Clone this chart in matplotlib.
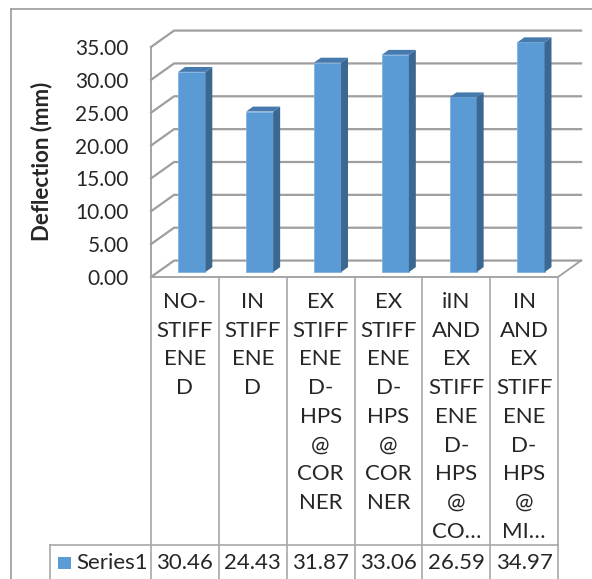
import matplotlib.pyplot as plt
from matplotlib.patches import Polygon, Rectangle
from matplotlib.lines import Line2D
from matplotlib.transforms import blended_transform_factory
import numpy as np

plt.rcParams['font.family'] = ['Lato', 'DejaVu Sans']

categories = [
    "NO-\nSTIFF\nENE\nD",
    "IN\nSTIFF\nENE\nD",
    "EX\nSTIFF\nENE\nD-\nHPS\n@\nCOR\nNER",
    "EX\nSTIFF\nENE\nD-\nHPS\n@\nCOR\nNER",
    "iIN\nAND\nEX\nSTIFF\nENE\nD-\nHPS\n@\nCO\u2026",
    "IN\nAND\nEX\nSTIFF\nENE\nD-\nHPS\n@\nMI\u2026",
]
deflection = [30.46, 24.43, 31.87, 33.06, 26.59, 34.97]
series_name = "Series1"
y_ticks = [0, 5, 10, 15, 20, 25, 30, 35]

W, H = 592, 579
FRONT = '#5B9BD5'
SIDE = '#3B6791'
TOP = '#4679AE'
GRID = '#9E9E9E'
LINE = '#A8A8A8'
TXT = '#262626'


def fx(px):
    return px / W


def fy(py):
    return 1 - py / H


fig = plt.figure(figsize=(W / 100, H / 100), dpi=100)
fig.patch.set_facecolor('white')

# front plane of the 3-D box
left, right, top, bottom = 151, 558, 47, 277
ax = fig.add_axes([fx(left), fy(bottom), fx(right - left), fy(top) - fy(bottom)])
n = len(deflection)
ax.set_xlim(0, n)
ax.set_ylim(0, 35)
ax.set_facecolor('none')
for s in ax.spines.values():
    s.set_visible(False)
ax.set_xticks([])
ax.set_yticks(y_ticks)
ax.set_yticklabels([f"{v:.2f}" for v in y_ticks], fontsize=15, color=TXT)
ax.tick_params(axis='y', length=0, pad=16)

# depth vector of the box (data units)
dx, dy = 0.34, 2.5

# back wall + side wall gridlines
for v in y_ticks:
    ax.plot([0, dx, n + dx], [v, v + dy, v + dy], color=GRID, lw=1.6,
            clip_on=False, zorder=1, solid_joinstyle='miter')
# floor edges and front axis line
ax.plot([0, n, n + dx], [0, 0, dy], color=GRID, lw=1.3, clip_on=False, zorder=1)
ax.plot([0, 0], [0, 35], color=GRID, lw=1.3, clip_on=False, zorder=1)

# 3-D columns
w = 0.40
f0, d = 0.30, 0.30
xs = np.arange(n) + 0.5 - w / 2 + f0 * dx
y0 = f0 * dy
ax.bar(xs, deflection, width=w, bottom=y0, align='edge', color=FRONT,
       edgecolor='#7FB2E0', linewidth=0.6, zorder=3, clip_on=False)
for x0, v in zip(xs, deflection):
    side = [(x0 + w, y0), (x0 + w + d * dx, y0 + d * dy),
            (x0 + w + d * dx, y0 + v + d * dy), (x0 + w, y0 + v)]
    cap = [(x0, y0 + v), (x0 + d * dx, y0 + v + d * dy),
           (x0 + w + d * dx, y0 + v + d * dy), (x0 + w, y0 + v)]
    ax.add_patch(Polygon(side, closed=True, facecolor=SIDE, edgecolor='none',
                         zorder=3, clip_on=False))
    ax.add_patch(Polygon(cap, closed=True, facecolor=TOP, edgecolor='none',
                         zorder=3, clip_on=False))

fig.text(fx(42), fy(161), "Deflection (mm)", rotation=90, ha='center', va='center',
         fontsize=16, fontweight='bold', color=TXT)

# data table under the plot
tr = blended_transform_factory(ax.transData, fig.transFigure)
row_y = 545
for i in range(n + 1):
    fig.add_artist(Line2D([i, i], [fy(bottom), 0], transform=tr, color=LINE, lw=1.2))
fig.add_artist(Line2D([fx(50), fx(right)], [fy(row_y), fy(row_y)], color=LINE, lw=1.2))
fig.add_artist(Line2D([fx(50), fx(50)], [fy(row_y), 0], color=LINE, lw=1.2))

line_gap = 28.7
for i, lab in enumerate(categories):
    for k, part in enumerate(lab.split("\n")):
        ax.text(i + 0.5, fy(302 + k * line_gap), part, transform=tr, ha='center',
                va='center', fontsize=16, color=TXT)
    ax.text(i + 0.5, fy(563), f"{deflection[i]:.2f}", transform=tr, ha='center',
            va='center', fontsize=16, color=TXT)

fig.add_artist(Rectangle((fx(58), fy(569)), fx(13), fy(557) - fy(569),
                         facecolor=FRONT, edgecolor='none'))
fig.text(fx(76), fy(563), series_name, ha='left', va='center', fontsize=16, color=TXT)

# chart area border
fig.add_artist(Line2D([fx(11), 1], [fy(9), fy(9)], color='#9A9A9A', lw=1.2))
fig.add_artist(Line2D([fx(11), fx(11)], [fy(9), 0], color='#9A9A9A', lw=1.2))

fig.savefig('out.png', dpi=100)
